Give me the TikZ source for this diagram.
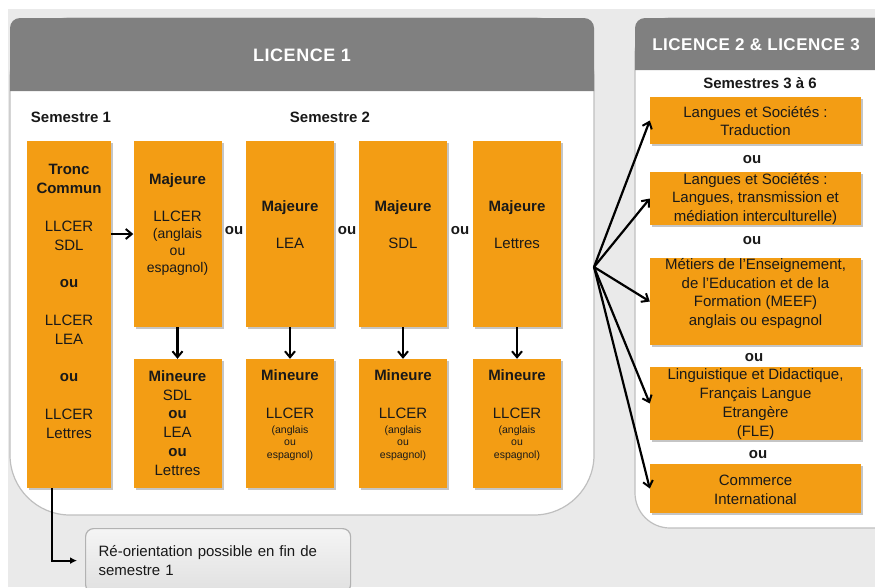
\documentclass[tikz,border=0pt]{standalone}
\usepackage{fontspec}
\setmainfont{Liberation Sans}
\newfontfamily\headfont[LetterSpace=3]{Liberation Sans}
\usepackage{xcolor}
\usetikzlibrary{arrows.meta, shadows}
\definecolor{Orange0}{RGB}{243,157,20}
\definecolor{HeadGray}{RGB}{128,128,128}
\definecolor{BackGray}{RGB}{234,234,234}
\newcommand{\midsz}{\fontsize{14}{17}\selectfont}
\newcommand{\tinysz}{\fontsize{10.5}{12.5}\selectfont}

\begin{document}
\begin{tikzpicture}[x=1pt, y=-1pt,
  every node/.style={font=\fontsize{15}{18.8}\selectfont, text=black!90, inner sep=0pt},
  colbox/.style={fill=Orange0, drop shadow={shadow xshift=2pt, shadow yshift=-2pt, fill=black!50, opacity=.45}},
  majbox/.style={colbox, minimum width=88pt, minimum height=186pt},
  minbox/.style={colbox, minimum width=88pt, minimum height=129pt},
  optbox/.style={colbox, minimum width=211pt},
  panel/.style={fill=white, draw=black!25, line width=1.2pt},
  head/.style={text=white, font=\headfont\bfseries\fontsize{18}{20}\selectfont},
  semlbl/.style={font=\bfseries\fontsize{15}{18}\selectfont},
  oulbl/.style={font=\bfseries\fontsize{15}{18}\selectfont},
  arr/.style={-{Straight Barb[length=6pt, width=10pt, line width=2pt]}, line width=2.2pt, black}]
  \useasboundingbox (0,0) rectangle (875,587);
  \clip (0,0) rectangle (875,587);
  \fill[white] (0,0) rectangle (875,587);
  \fill[BackGray] (8,9) rectangle (875,587);

  % Licence 1 panel
  \draw[panel, rounded corners=60pt] (10,18) rectangle (594,515);
  \fill[HeadGray, rounded corners=10pt] (10,91) -- (10,18) -- (594,18) -- (594,91);
  \node[head] (l1) at (302,55) {LICENCE 1};

  % Licence 2 & 3 panel
  \draw[panel, rounded corners=35pt] (635,18) rectangle (910,528);
  \fill[HeadGray, rounded corners=10pt] (635,70) -- (635,18) -- (910,18) -- (910,70);
  \node[head, font=\headfont\bfseries\fontsize{17}{20}\selectfont] (l23) at (756,45) {LICENCE 2 \& LICENCE 3};

  \node[semlbl] (s1) at (71,117) {Semestre 1};
  \node[semlbl] (s2) at (330,117) {Semestre 2};
  \node[semlbl] (s36) at (760,83) {Semestres 3 à 6};

  % semestre 1
  \node[colbox, minimum width=84pt, minimum height=347pt] (tc) at (69,314.5) {};
  \node[align=center] (tc-txt) at (69,301.5) {\textbf{Tronc}\\\textbf{Commun}\\[18.8pt]LLCER\\SDL\\[18.8pt]\textbf{ou}\\[18.8pt]LLCER\\LEA\\[18.8pt]\textbf{ou}\\[18.8pt]LLCER\\Lettres};

  % semestre 2 : majeures
  \node[majbox] (maj1) at (177.5,234) {};
  \node[majbox] (maj2) at (290,234) {};
  \node[majbox] (maj3) at (403,234) {};
  \node[majbox] (maj4) at (517,234) {};
  \node[align=center] (maj1-txt) at (177.5,224.5) {\textbf{Majeure}\\[18.8pt]LLCER\\[-1.5pt]{\midsz(anglais}\\[-1.8pt]{\midsz ou}\\[-1.8pt]{\midsz espagnol)}};
  \node[align=center] (maj2-txt) at (290,224.5) {\textbf{Majeure}\\[18.8pt]LEA};
  \node[align=center] (maj3-txt) at (403,224.5) {\textbf{Majeure}\\[18.8pt]SDL};
  \node[align=center] (maj4-txt) at (517,224.5) {\textbf{Majeure}\\[18.8pt]Lettres};
  \node[oulbl] (ou1) at (234,231) {ou};
  \node[oulbl] (ou2) at (347,231) {ou};
  \node[oulbl] (ou3) at (460,231) {ou};

  % semestre 2 : mineures
  \node[minbox] (min1) at (177.5,423.5) {};
  \node[minbox] (min2) at (290,423.5) {};
  \node[minbox] (min3) at (403,423.5) {};
  \node[minbox] (min4) at (517,423.5) {};
  \node[align=center] (min1-txt) at (177.5,423) {\textbf{Mineure}\\SDL\\\textbf{ou}\\LEA\\\textbf{ou}\\Lettres};
  \node[align=center] (min2-txt) at (290,415) {\textbf{Mineure}\\[18.8pt]LLCER\\[-4pt]{\tinysz(anglais}\\[-6.3pt]{\tinysz ou}\\[-6.3pt]{\tinysz espagnol)}};
  \node[align=center] (min3-txt) at (403,415) {\textbf{Mineure}\\[18.8pt]LLCER\\[-4pt]{\tinysz(anglais}\\[-6.3pt]{\tinysz ou}\\[-6.3pt]{\tinysz espagnol)}};
  \node[align=center] (min4-txt) at (517,415) {\textbf{Mineure}\\[18.8pt]LLCER\\[-4pt]{\tinysz(anglais}\\[-6.3pt]{\tinysz ou}\\[-6.3pt]{\tinysz espagnol)}};

  \draw[arr] (tc.east |- maj1.west) -- (maj1.west);
  \foreach \i in {1,...,4}
    \draw[arr] (maj\i.south) -- (min\i.north);

  % semestres 3 a 6
  \node[optbox, minimum height=47pt] (o1) at (755.5,120.5) {};
  \node[optbox, minimum height=53pt] (o2) at (755.5,198.5) {};
  \node[optbox, minimum height=87pt] (o3) at (755.5,301.5) {};
  \node[optbox, minimum height=73pt] (o4) at (755.5,403.5) {};
  \node[optbox, minimum height=49pt] (o5) at (755.5,488.5) {};
  \node[align=center] (o1-txt) at (755.5,121) {Langues et Sociétés :\\Traduction};
  \node[align=center] (o2-txt) at (755.5,199) {Langues et Sociétés :\\Langues, transmission et\\médiation interculturelle)};
  \node[align=center] (o3-txt) at (755.5,293.5) {Métiers de l'Enseignement,\\de l'Education et de la\\Formation (MEEF)\\anglais ou espagnol};
  \node[align=center] (o4-txt) at (755.5,404) {Linguistique et Didactique,\\Français Langue\\Etrangère\\(FLE)};
  \node[align=center] (o5-txt) at (755.5,489.5) {Commerce\\International};
  \node[oulbl] (ou4) at (752,160) {ou};
  \node[oulbl] (ou5) at (752,241) {ou};
  \node[oulbl] (ou6) at (754,358) {ou};
  \node[oulbl] (ou7) at (758,455) {ou};

  \coordinate (fan) at (594,267);
  \foreach \b in {o1,o2,o3,o4,o5}
    \draw[arr] (fan) -- (\b.west);

  % re-orientation
  \node[draw=black!30, line width=1.2pt, rounded corners=8pt, top color=black!4, bottom color=black!12,
        anchor=north west, minimum height=64pt, text width=239pt, inner xsep=13pt, align=left] (reo) at (85,528)
        {Ré-orientation possible en fin de\\semestre 1};
  \draw[line width=2.2pt, -{Latex[length=7pt, width=7pt]}, shorten >=8pt] ([xshift=-17pt]tc.south) |- (reo.west);
\end{tikzpicture}
\end{document}
